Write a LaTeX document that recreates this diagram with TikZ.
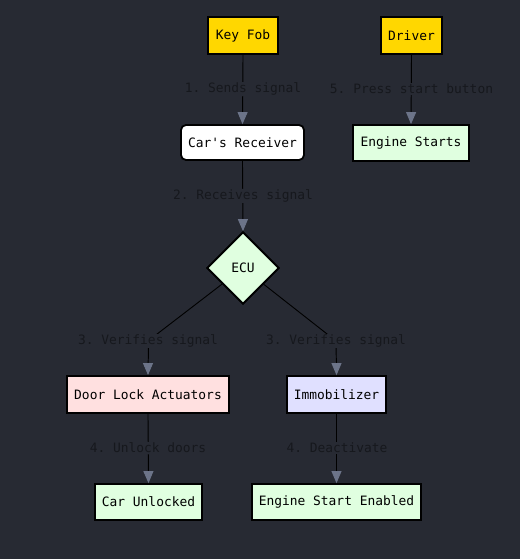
\documentclass[tikz,border=0pt]{standalone}
\usepackage{fontspec}
\setmonofont{DejaVu Sans Mono}
\usetikzlibrary{shapes.geometric,arrows.meta}
\definecolor{bgc}{RGB}{39,42,51}
\definecolor{lbl}{RGB}{22,24,29}
\definecolor{tipc}{RGB}{108,116,137}
\definecolor{yel}{RGB}{255,215,0}
\definecolor{grn}{RGB}{224,255,224}
\definecolor{pnk}{RGB}{255,224,224}
\definecolor{blu}{RGB}{224,224,255}
\tikzset{
  box/.style={draw=black, line width=1.8pt, inner sep=0pt, font=\ttfamily\fontsize{12.9}{15}\selectfont, text=black},
  elabel/.style={fill=bgc, inner sep=1pt, text=lbl, font=\ttfamily\fontsize{12.9}{15}\selectfont},
  conn/.style={draw=black, line width=0.9pt, -{Triangle[width=10pt,length=12pt,color=tipc]}},
  seg/.style={draw=black, line width=0.9pt}
}
\begin{document}
\begin{tikzpicture}[x=1pt,y=-1pt]
\fill[bgc] (0,0) rectangle (520,559);
\useasboundingbox (0,0) rectangle (520,559);
% nodes
\node[box, fill=yel, minimum width=70pt, minimum height=37pt] (fob) at (243,35.5) {Key Fob};
\node[box, fill=yel, minimum width=61pt, minimum height=37pt] (drv) at (411.5,35.5) {Driver};
\node[box, fill=white, rounded corners=5pt, minimum width=123pt, minimum height=35pt] (rcv) at (242.5,142.5) {Car's Receiver};
\node[box, fill=grn, minimum width=116pt, minimum height=36pt] (eng) at (411,143) {Engine Starts};
\node[box, fill=grn, diamond, aspect=1, minimum width=72pt, minimum height=72pt] (ecu) at (243,268) {ECU};
\node[box, fill=pnk, minimum width=162pt, minimum height=37pt] (door) at (148,394.5) {Door Lock Actuators};
\node[box, fill=blu, minimum width=99pt, minimum height=37pt] (imm) at (336.5,394.5) {Immobilizer};
\node[box, fill=grn, minimum width=107pt, minimum height=36pt] (unl) at (148.5,502) {Car Unlocked};
\node[box, fill=grn, minimum width=169pt, minimum height=36pt] (ese) at (336.5,502) {Engine Start Enabled};
% edge label anchors
\coordinate (c1) at (243,89);
\coordinate (c5) at (411.5,89);
\coordinate (c2) at (243,196);
\coordinate (c3a) at (148,341);
\coordinate (c3b) at (336,341);
\coordinate (c4a) at (148,448);
\coordinate (c4b) at (337,448);
% connectors
\draw[conn] (fob.south) -- (rcv.north);
\draw[conn] (drv.south) -- (eng.north);
\draw[conn] (rcv.south) -- (ecu.north);
\draw[seg] (ecu) -- (c3a);
\draw[conn] (c3a) .. controls (149,355) and (148,362) .. (door.north);
\draw[seg] (ecu) -- (c3b);
\draw[conn] (c3b) .. controls (336,355) and (336.5,362) .. (imm.north);
\draw[conn] (door.south) -- (unl.north);
\draw[conn] (imm.south) -- (ese.north);
% redraw diamond on top of the segments
\node[box, fill=grn, diamond, aspect=1, minimum width=72pt, minimum height=72pt] at (243,268) {ECU};
% labels
\node[elabel] (l1) at (c1) {1. Sends signal};
\node[elabel] (l5) at (c5) {5. Press start button};
\node[elabel] (l2) at (c2) {2. Receives signal};
\node[elabel] (l3a) at (c3a) {3. Verifies signal};
\node[elabel] (l3b) at (c3b) {3. Verifies signal};
\node[elabel] (l4a) at (c4a) {4. Unlock doors};
\node[elabel] (l4b) at (c4b) {4. Deactivate};
\end{tikzpicture}
\end{document}
